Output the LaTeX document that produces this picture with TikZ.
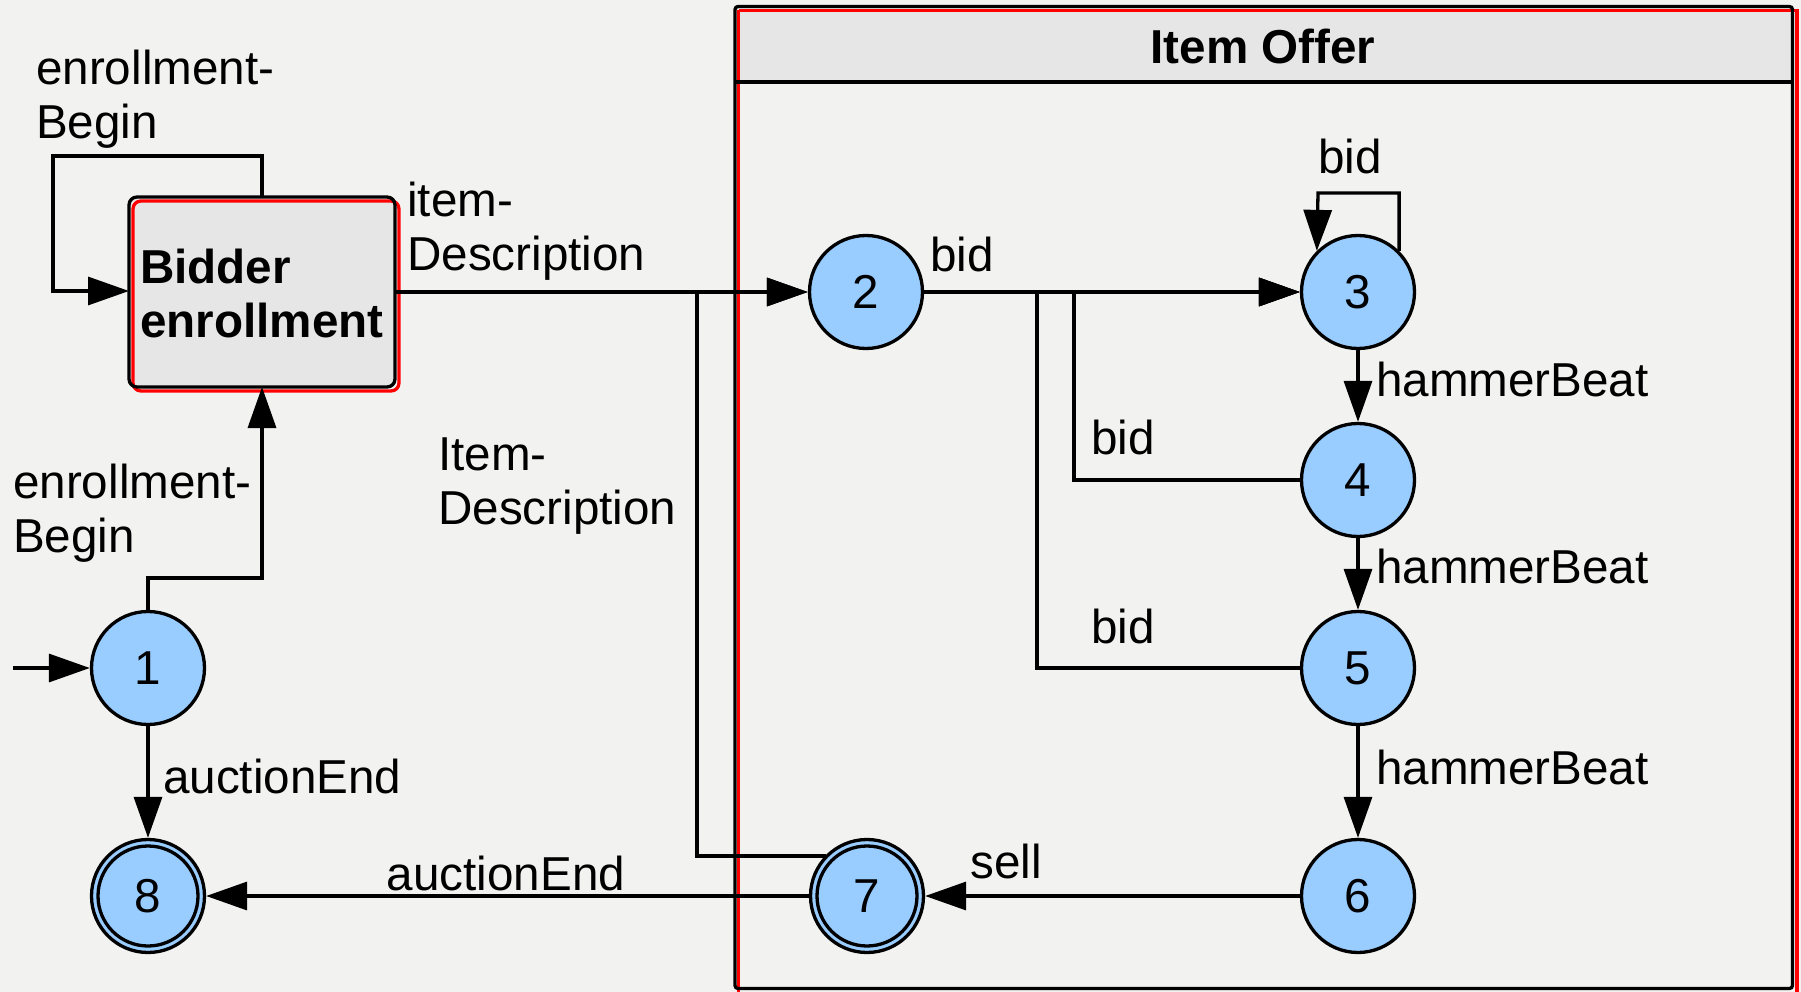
\documentclass[tikz,border=0pt]{standalone}
\usepackage{fontspec}
\setmainfont{Liberation Sans}
\usetikzlibrary{arrows.meta}
\definecolor{bg}{HTML}{F2F2F1}
\definecolor{statefill}{HTML}{99CCFF}
\definecolor{panel}{HTML}{E6E6E6}
\definecolor{framered}{HTML}{FF0000}
\tikzset{
  txt/.style={font=\fontsize{47.6}{54}\selectfont},
  state/.style={circle,draw=black,fill=statefill,line width=3.3pt,
    minimum size=113pt,inner sep=0pt,txt},
  final/.style={state,path picture={\draw[line width=3.3pt]
    (path picture bounding box.center) circle (50pt);}},
  lbl/.style={inner sep=0pt,align=left,anchor=west,txt},
  wire/.style={line width=3.3pt},
  arr/.style={line width=3.3pt,-{Triangle[length=41pt,width=28pt]}}
}
\begin{document}
\begin{tikzpicture}[x=1pt,y=-1pt]
\fill[bg] (0,0) rectangle (1801,992);
\useasboundingbox (0,0) rectangle (1801,992);

% Item Offer composite region
\fill[panel] (735,6.5) rectangle (1792.5,82);
\draw[framered,line width=3.3pt] (738.5,10.5) -- (1797,10.5) -- (1797,995);
\draw[framered,line width=3.3pt] (738.5,10.5) -- (738.5,995);
\draw[line width=3.3pt,rounded corners=3pt] (735,6.5) rectangle (1792.5,988.5);
\draw[line width=3.3pt] (735,82) -- (1792.5,82);
\node[txt,font=\fontsize{47.6}{54}\selectfont\bfseries] (title) at (1263,46) {Item Offer};

% Bidder enrollment region
\fill[panel,rounded corners=8pt] (129,197) rectangle (395,387);
\draw[framered,line width=3.3pt,rounded corners=8pt] (133,201) rectangle (399,391);
\draw[line width=3.3pt,rounded corners=8pt] (129,197) rectangle (395,387);
\node[inner sep=0pt,outer sep=0pt,minimum width=266pt,minimum height=190pt] (bidder) at (262,292) {};
\node[lbl,font=\fontsize{47.6}{54}\selectfont\bfseries] (bidtxt) at (140,293) {Bidder\\enrollment};

% states
\node[state] (s1) at (148,668) {1};
\node[state] (s2) at (866,292) {2};
\node[state] (s3) at (1358,292) {3};
\node[state] (s4) at (1358,480) {4};
\node[state] (s5) at (1358,668) {5};
\node[state] (s6) at (1358,896) {6};
\node[final] (s7) at (867,896) {7};
\node[final] (s8) at (148,896) {8};

% bend points of the routed transitions
\coordinate (init) at (13,668);
\coordinate (k1) at (262,578);
\coordinate (loopA) at (262,156);
\coordinate (loopB) at (53,291);
\coordinate (k7a) at (826,856);
\coordinate (k7b) at (697,856);
\coordinate (k7c) at (697,292);
\coordinate (k4) at (1074,480);
\coordinate (k4b) at (1074,292);
\coordinate (k5) at (1037,668);
\coordinate (k5b) at (1037,292);
\coordinate (l3) at (1318,193);

% transitions
\draw[arr] (init) -- (s1);
\draw[arr] (s1.north) |- (k1) -- (bidder.south);
\draw[arr] (loopA |- bidder.north) -- (loopA) -| (loopB) -- (bidder.west |- loopB);
\draw[arr] (bidder.east) -- (s2);
\draw[arr] (k7a) -- (k7b) -- (k7c) -- (s2.west);
\draw[arr] (s2) -- (s3);
\draw[arr] (s4.west) -- (k4) -- (k4b) -- (s3.west);
\draw[arr] (s5.west) -- (k5) -- (k5b) -- (s3.west);
\draw[arr] (s3.north east) |- (l3) -- (s3.north west);
\draw[arr] (s3) -- (s4);
\draw[arr] (s4) -- (s5);
\draw[arr] (s5) -- (s6);
\draw[arr] (s6) -- (s7);
\draw[arr] (s7) -- (s8);
\draw[arr] (s1) -- (s8);

% labels
\node[lbl] (t1) at (36,99) {enrollment-\\Begin};
\node[lbl] (t2) at (13,513) {enrollment-\\Begin};
\node[lbl] (t3) at (407,231) {item-\\Description};
\node[lbl] (t4) at (438,486) {Item-\\Description};
\node[lbl] (t5) at (930,254) {bid};
\node[txt,inner sep=0pt] (t6) at (1350,156) {bid};
\node[lbl] (t7) at (1376,379) {hammerBeat};
\node[lbl] (t8) at (1091,437) {bid};
\node[lbl] (t9) at (1376,566) {hammerBeat};
\node[lbl] (t10) at (1091,626) {bid};
\node[lbl] (t11) at (1376,767) {hammerBeat};
\node[lbl] (t12) at (970,861) {sell};
\node[txt,inner sep=0pt] (t13) at (506,873) {auctionEnd};
\node[lbl] (t14) at (163,776) {auctionEnd};
\end{tikzpicture}
\end{document}
